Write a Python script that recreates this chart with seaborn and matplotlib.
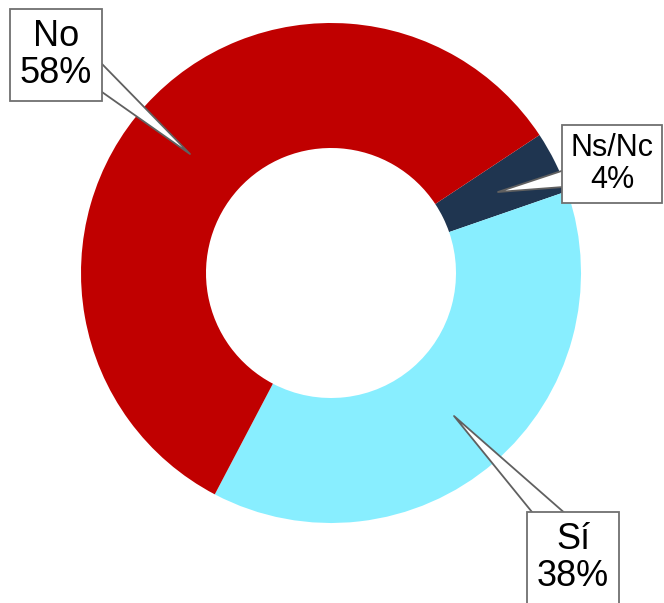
import matplotlib
matplotlib.use("Agg")
import matplotlib.pyplot as plt
import seaborn as sns

# datos del gráfico (orden horario desde arriba a la derecha)
labels = ["Ns/Nc", "Sí", "No"]
values = [4, 38, 58]
colors = ["#1F3550", "#88EEFF", "#C00000"]

# caja: centro, punta de flecha, tamaño de letra, punto de salida (relpos), ancho cuña
# (píxeles, origen arriba-izquierda)
label_pos = {
    "No": ((56, 55), (190, 154), 26, (1, 0.28), 0.85),
    "Ns/Nc": ((612, 164), (498, 192), 22, (0, 0.28), 0.65),
    "Sí": ((573, 558), (454, 416), 26, (0.27, 1), 0.9),
}

sns.set_theme(style="white")
plt.rcParams['font.family'] = ['Liberation Sans', 'DejaVu Sans']

W, H = 664, 603
fig = plt.figure(figsize=(W / 100, H / 100), dpi=100)
ax = fig.add_axes([0, 0, 1, 1])

cx, cy, r = 331, H - 273, 250
ax.pie(values, colors=colors, startangle=33.5, counterclock=False,
       center=(cx, cy), radius=r, frame=True,
       wedgeprops=dict(width=125, linewidth=0))
ax.set_xlim(0, W)
ax.set_ylim(0, H)
ax.axis('off')

for lab, val in zip(labels, values):
    (tx, ty), (px, py), fs, rp, tw = label_pos[lab]
    ax.annotate(f"{lab}\n{val}%", xy=(px, H - py), xytext=(tx, H - ty),
                ha='center', va='center', fontsize=fs, linespacing=1.05,
                color='black',
                bbox=dict(boxstyle='square,pad=0.28', fc='white', ec='#707070', lw=1.3),
                arrowprops=dict(arrowstyle=f'wedge,tail_width={tw},shrink_factor=0.5',
                                fc='white', ec='#606060', lw=1.3, relpos=rp,
                                patchA=None, mutation_scale=20, shrinkA=0, shrinkB=0))

fig.savefig("out.png", dpi=100)
